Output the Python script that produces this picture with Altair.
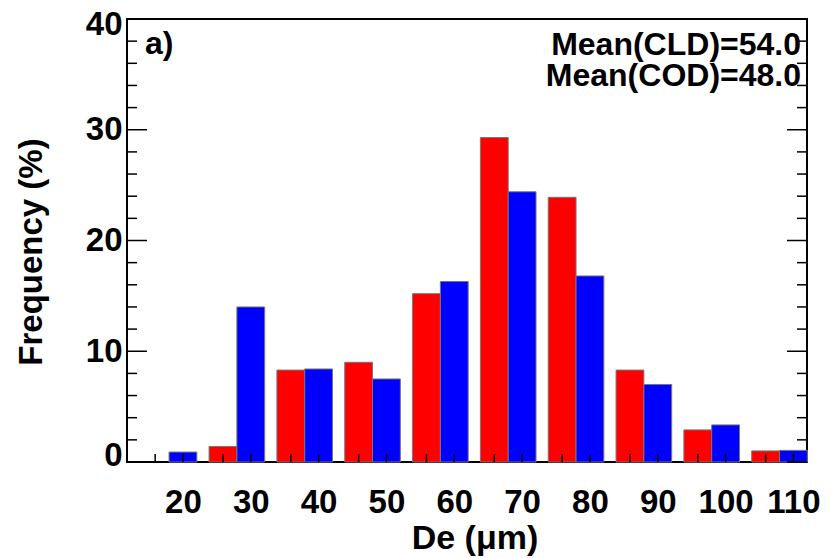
import altair as alt
import pandas as pd

# ---- data ----
de_bins = [20, 30, 40, 50, 60, 70, 80, 90, 100, 110]
freq_cld = [0.0, 1.4, 8.3, 9.0, 15.2, 29.3, 23.9, 8.3, 2.9, 1.0]    # red
freq_cod = [0.9, 14.0, 8.4, 7.5, 16.3, 24.4, 16.8, 7.0, 3.35, 1.05]  # blue
y_major_ticks = [0, 10, 20, 30, 40]
y_minor_ticks = [2, 4, 6, 8, 12, 14, 16, 18, 22, 24, 26, 28, 32, 34, 36, 38]
annot_lines = ["Mean(CLD)=54.0", "Mean(COD)=48.0"]
panel_label = "a)"
x_title = "De (\u03bcm)"
y_title = "Frequency (%)"

BAR_W = 4.1  # bar width in De units
W, H = 680, 443
FONT = "Liberation Sans"

rows = []
for d, c, o in zip(de_bins, freq_cld, freq_cod):
    rows.append({"De": d, "series": "CLD", "x0": d - 1.5 * BAR_W, "x1": d - 0.5 * BAR_W, "f": c})
    rows.append({"De": d, "series": "COD", "x0": d - 0.5 * BAR_W, "x1": d + 0.5 * BAR_W, "f": o})
bars_df = pd.DataFrame(rows)
bars_df = bars_df[bars_df["f"] > 0]

xticks_df = pd.DataFrame({"t": [d - BAR_W for d in de_bins] + list(de_bins)})
ymaj_df = pd.DataFrame({"v": y_major_ticks})
ymin_df = pd.DataFrame({"v": y_minor_ticks})

xscale = alt.Scale(domain=[11.75, 112.0], nice=False, zero=False)
yscale = alt.Scale(domain=[0, 40], nice=False, zero=False)

xaxis = alt.Axis(values=de_bins, ticks=False, domain=False, grid=False, tickSize=0,
                 labelFont=FONT, labelFontSize=33, labelFontWeight="bold", labelColor="black",
                 labelPadding=24, labelExpr="format(datum.value, 'd')", title=None)
yaxis = alt.Axis(values=y_major_ticks, ticks=False, domain=False, grid=False, tickSize=0,
                 labelFont=FONT, labelFontSize=33, labelFontWeight="bold", labelColor="black",
                 labelPadding=5, title=None,
                 labelOffset={"condition": [{"test": "datum.value == 0", "value": -7},
                                            {"test": "datum.value == 40", "value": 5}],
                              "value": 0})

bars = alt.Chart(bars_df).mark_rect(stroke="#777777", strokeWidth=1).encode(
    x=alt.X("x0:Q", scale=xscale, axis=xaxis),
    x2="x1:Q",
    y=alt.Y("f:Q", scale=yscale, axis=yaxis),
    y2=alt.datum(0),
    color=alt.Color("series:N", scale=alt.Scale(domain=["CLD", "COD"], range=["#ff0000", "#0000ff"]), legend=None),
)

tick_style = dict(color="black", strokeWidth=1.5)
xt = alt.Chart(xticks_df).mark_rule(**tick_style).encode(
    x=alt.X("t:Q", scale=xscale, axis=xaxis), y=alt.value(H), y2=alt.value(H - 8))
yl_maj = alt.Chart(ymaj_df).mark_rule(**tick_style).encode(
    y=alt.Y("v:Q", scale=yscale, axis=yaxis), x=alt.value(0), x2=alt.value(20))
yr_maj = alt.Chart(ymaj_df).mark_rule(**tick_style).encode(
    y=alt.Y("v:Q", scale=yscale, axis=yaxis), x=alt.value(W), x2=alt.value(W - 20))
yl_min = alt.Chart(ymin_df).mark_rule(**tick_style).encode(
    y=alt.Y("v:Q", scale=yscale, axis=yaxis), x=alt.value(0), x2=alt.value(10))
yr_min = alt.Chart(ymin_df).mark_rule(**tick_style).encode(
    y=alt.Y("v:Q", scale=yscale, axis=yaxis), x=alt.value(W), x2=alt.value(W - 10))

txt = dict(font=FONT, fontSize=32, fontWeight="bold", color="black")
t_panel = alt.Chart(pd.DataFrame({"s": [panel_label]})).mark_text(align="left", baseline="alphabetic", **txt).encode(
    text="s:N", x=alt.value(18), y=alt.value(35))
t_m1 = alt.Chart(pd.DataFrame({"s": [annot_lines[0]]})).mark_text(align="right", baseline="alphabetic", **txt).encode(
    text="s:N", x=alt.value(674), y=alt.value(36))
t_m2 = alt.Chart(pd.DataFrame({"s": [annot_lines[1]]})).mark_text(align="right", baseline="alphabetic", **txt).encode(
    text="s:N", x=alt.value(674), y=alt.value(67))
t_x = alt.Chart(pd.DataFrame({"s": [x_title]})).mark_text(align="center", baseline="middle", font=FONT, fontSize=34, fontWeight="bold", color="black").encode(
    text="s:N", x=alt.value(348), y=alt.value(520))
t_y = alt.Chart(pd.DataFrame({"s": [y_title]})).mark_text(align="center", baseline="middle", angle=270, font=FONT, fontSize=33, fontWeight="bold", color="black").encode(
    text="s:N", x=alt.value(-95), y=alt.value(233))

chart = alt.layer(bars, xt, yl_maj, yr_maj, yl_min, yr_min, t_panel, t_m1, t_m2, t_x, t_y).properties(
    width=W, height=H,
    autosize=alt.AutoSizeParams(type="none"),
    padding={"left": 119, "top": 11, "right": 16, "bottom": 94},
    background="white",
).configure_view(stroke="black", strokeWidth=2)

chart.save("out.html", embed_options={"renderer": "svg", "actions": False})
